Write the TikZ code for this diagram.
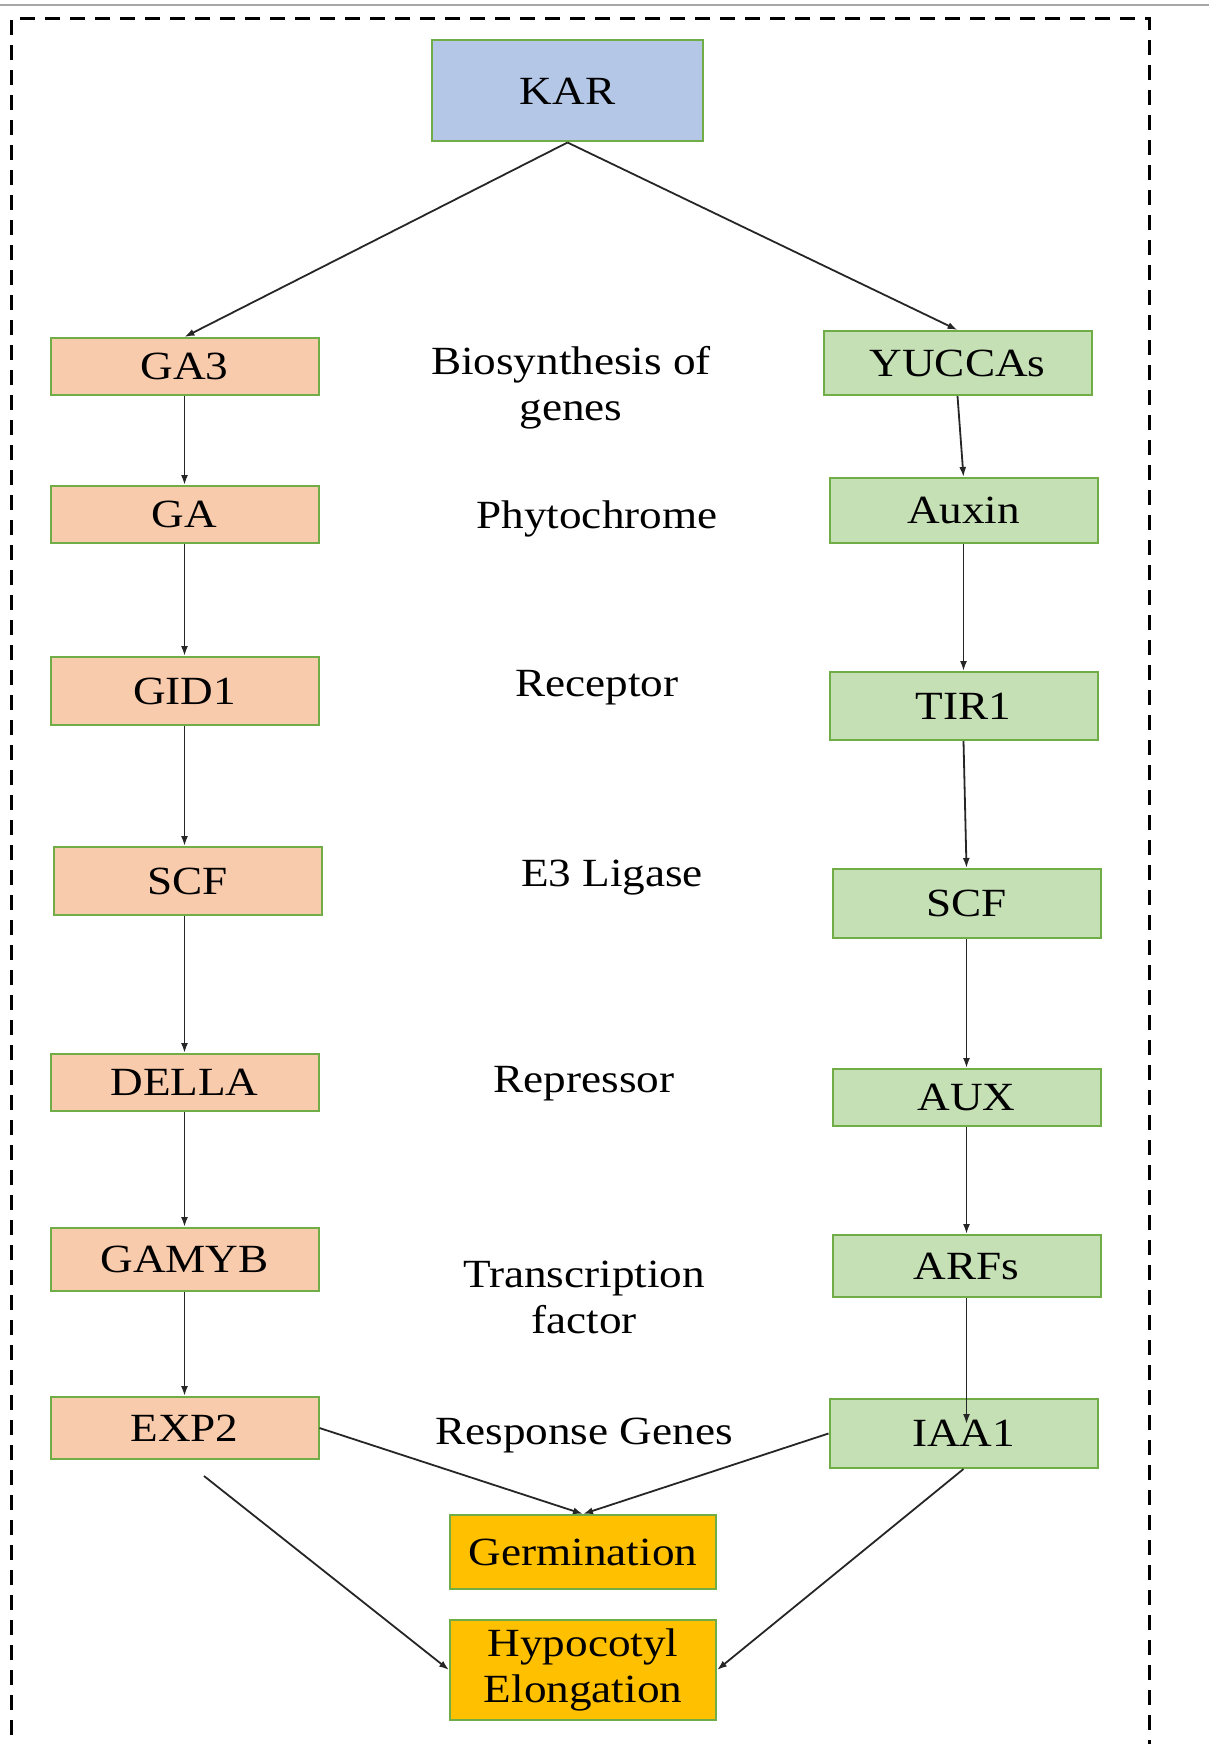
\documentclass[tikz,border=0pt]{standalone}
\usepackage{fontspec}
\setmainfont{Liberation Serif}[FakeStretch=1.13]
\usepackage{tikz}
\usetikzlibrary{arrows.meta}
\usepackage{xcolor}
\definecolor{boxgreen}{RGB}{112, 173, 71}
\definecolor{karblue}{RGB}{180, 199, 231}
\definecolor{gapeach}{RGB}{248, 203, 173}
\definecolor{auxgreen}{RGB}{197, 224, 180}
\definecolor{outgold}{RGB}{255, 192, 0}

\begin{document}
\begin{tikzpicture}[x=0.5pt, y=-0.5pt, >={Latex[length=5pt,width=3.5pt]},
    gene/.style={draw=boxgreen, line width=1pt, minimum width=134pt, align=center,
      inner sep=0pt, font=\fontsize{20}{23}\selectfont},
    gabox/.style={gene, fill=gapeach},
    auxbox/.style={gene, fill=auxgreen},
    outbox/.style={gene, fill=outgold, minimum width=133pt},
    role/.style={align=center, font=\fontsize{20}{23}\selectfont},
    link/.style={->, line width=0.9pt, black!85}]
    \useasboundingbox (0,0) rectangle (1209,1744);
    % frame
    \draw[gray!70, line width=0.6pt] (0,5) -- (1209,5);
    \draw[line width=1.5pt, dash pattern=on 7.5pt off 5pt] (11,1760) |- (1149,19) -- (1149,1760);

    \node[gene, fill=karblue, minimum width=135.5pt, minimum height=50.5pt] (kar) at (567.5, 91) {KAR};

    % gibberellin side
    \node[gabox, minimum height=28.5pt] (ga3) at (184.5, 366.5) {GA3};
    \node[gabox, minimum height=28.5pt] (ga) at (184.5, 514.5) {GA};
    \node[gabox, minimum height=34pt] (gid1) at (184.5, 691) {GID1};
    \node[gabox, minimum height=34pt] (scfl) at (187.5, 881) {SCF};
    \node[gabox, minimum height=28.5pt] (della) at (184.5, 1082.5) {DELLA};
    \node[gabox, minimum height=31.5pt] (gamyb) at (184.5, 1259.5) {GAMYB};
    \node[gabox, minimum height=31pt] (exp2) at (184.5, 1428) {EXP2};

    % auxin side
    \node[auxbox, minimum height=32pt] (yucca) at (957.5, 363) {YUCCAs};
    \node[auxbox, minimum height=32.5pt] (auxin) at (963.5, 510.5) {Auxin};
    \node[auxbox, minimum height=34pt] (tir1) at (963.5, 706) {TIR1};
    \node[auxbox, minimum height=34.5pt] (scfr) at (966.5, 903.5) {SCF};
    \node[auxbox, minimum height=28.5pt] (aux) at (966.5, 1097.5) {AUX};
    \node[auxbox, minimum height=31pt] (arfs) at (966.5, 1266) {ARFs};
    \node[auxbox, minimum height=34.5pt] (iaa1) at (963.5, 1433.5) {IAA1};

    % middle labels
    \node[role] (bio) at (571, 388) {Biosynthesis of\\genes};
    \node[role] (phy) at (597, 519) {Phytochrome};
    \node[role] (rec) at (597, 688) {Receptor};
    \node[role] (e3) at (612, 878) {E3 Ligase};
    \node[role] (rep) at (584, 1084) {Repressor};
    \node[role] (tf) at (584, 1297) {Transcription\\factor};
    \node[role] (resp) at (584, 1435) {Response Genes};

    % outcomes
    \node[outbox, minimum height=37pt] (germ) at (583, 1552) {Germination};
    \node[outbox, minimum height=50pt] (hypo) at (583, 1670) {Hypocotyl\\Elongation};

    \coordinate (arfend) at (966.5, 1424);
    \coordinate (exp2low) at (204, 1476);

    \draw[link] (kar.south) -- (ga3.north);
    \draw[link] (kar.south) -- (yucca.north);
    \draw[link] (ga3) -- (ga);
    \draw[link] (ga) -- (gid1);
    \draw[link] (gid1.south) -- (scfl.north -| gid1.south);
    \draw[link] (scfl.south -| della.north) -- (della.north);
    \draw[link] (della) -- (gamyb);
    \draw[link] (gamyb) -- (exp2);
    \draw[link] (yucca.south) -- (auxin.north);
    \draw[link] (auxin.south) -- (tir1.north);
    \draw[link] (tir1.south) -- (scfr.north);
    \draw[link] (scfr) -- (aux);
    \draw[link] (aux) -- (arfs);
    \draw[link] (arfs.south) -- (arfend);
    \draw[link] (exp2.east) -- (germ.north);
    \draw[link] (iaa1.west) -- (germ.north);
    \draw[link] (exp2low) -- (hypo.west);
    \draw[link] (iaa1.south) -- (hypo.east);
  \end{tikzpicture}
\end{document}
